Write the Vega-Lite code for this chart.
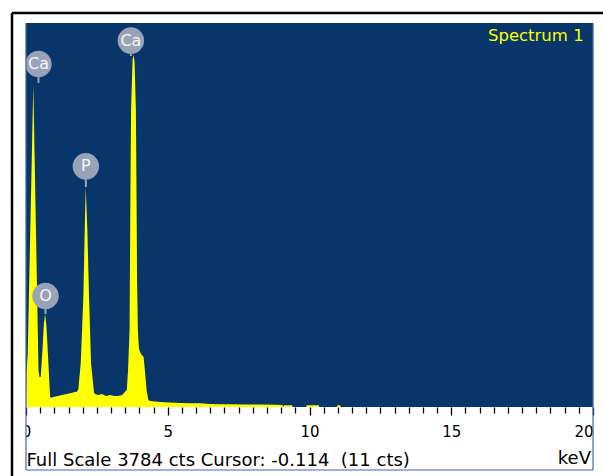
{
  "$schema": "https://vega.github.io/schema/vega-lite/v6.json",
  "width": 567,
  "height": 384,
  "autosize": {"type": "none"},
  "padding": {"left": 26, "top": 23, "right": 10, "bottom": 69},
  "background": "white",
  "view": {"fill": "#08356a", "stroke": null},
  "config": {"font": "DejaVu Sans"},
  "resolve": {"axis": {"x": "independent", "y": "independent"}},
  "datasets": {
    "spectrum": [
      {"e": 0, "c": 0}, {"e": 0.02, "c": 340}, {"e": 0.06, "c": 520}, {"e": 0.258, "c": 3173},
      {"e": 0.441, "c": 365}, {"e": 0.48, "c": 290}, {"e": 0.52, "c": 300}, {"e": 0.58, "c": 560},
      {"e": 0.63, "c": 820}, {"e": 0.675, "c": 915}, {"e": 0.72, "c": 800}, {"e": 0.79, "c": 430},
      {"e": 0.85, "c": 100}, {"e": 0.9, "c": 92}, {"e": 0.96, "c": 99}, {"e": 1.13, "c": 108},
      {"e": 1.27, "c": 118}, {"e": 1.44, "c": 128}, {"e": 1.59, "c": 138}, {"e": 1.73, "c": 148},
      {"e": 1.8, "c": 150}, {"e": 1.846, "c": 175}, {"e": 1.931, "c": 434}, {"e": 2.023, "c": 1084},
      {"e": 2.072, "c": 1744}, {"e": 2.107, "c": 2168}, {"e": 2.164, "c": 1744}, {"e": 2.224, "c": 1084},
      {"e": 2.294, "c": 434}, {"e": 2.4, "c": 138}, {"e": 2.436, "c": 128}, {"e": 2.54, "c": 118},
      {"e": 2.68, "c": 128}, {"e": 2.82, "c": 108}, {"e": 2.97, "c": 118}, {"e": 3.11, "c": 108},
      {"e": 3.25, "c": 108}, {"e": 3.39, "c": 118}, {"e": 3.49, "c": 148}, {"e": 3.555, "c": 168},
      {"e": 3.6, "c": 365}, {"e": 3.653, "c": 759}, {"e": 3.682, "c": 2040}, {"e": 3.706, "c": 2927},
      {"e": 3.759, "c": 3419}, {"e": 3.795, "c": 3469}, {"e": 3.83, "c": 3400}, {"e": 3.876, "c": 2927},
      {"e": 3.9, "c": 2040}, {"e": 3.918, "c": 1251}, {"e": 3.946, "c": 759}, {"e": 3.982, "c": 581},
      {"e": 4.024, "c": 542}, {"e": 4.084, "c": 512}, {"e": 4.148, "c": 493}, {"e": 4.2, "c": 345},
      {"e": 4.253, "c": 168}, {"e": 4.317, "c": 69}, {"e": 4.377, "c": 59}, {"e": 4.55, "c": 55},
      {"e": 4.73, "c": 49}, {"e": 5.08, "c": 44}, {"e": 5.44, "c": 40}, {"e": 5.79, "c": 38},
      {"e": 6.14, "c": 36}, {"e": 6.5, "c": 30}, {"e": 6.85, "c": 28}, {"e": 7.2, "c": 27},
      {"e": 7.73, "c": 25}, {"e": 8.26, "c": 24}, {"e": 8.79, "c": 22}, {"e": 9.04, "c": 20},
      {"e": 9.07, "c": 0}, {"e": 9.1, "c": 18}, {"e": 9.38, "c": 18}, {"e": 9.41, "c": 0},
      {"e": 9.88, "c": 0}, {"e": 9.91, "c": 18}, {"e": 10.32, "c": 18}, {"e": 10.35, "c": 0},
      {"e": 10.96, "c": 0}, {"e": 10.99, "c": 18}, {"e": 11.08, "c": 18}, {"e": 11.11, "c": 0},
      {"e": 20, "c": 0}
    ],
    "peaks": [
      {"el": "Ca", "e": 0.44, "c": 3380, "tip": 3193},
      {"el": "O", "e": 0.688, "c": 1094, "tip": 916},
      {"el": "P", "e": 2.111, "c": 2372, "tip": 2168},
      {"el": "Ca", "e": 3.7, "c": 3611, "tip": 3459}
    ]
  },
  "layer": [
    {
      "data": {"name": "spectrum"},
      "mark": {"type": "area", "color": "#ffff00", "interpolate": "linear", "clip": true},
      "encoding": {
        "x": {
          "field": "e", "type": "quantitative",
          "scale": {"domain": [0, 20], "nice": false, "zero": false},
          "axis": {
            "orient": "bottom",
            "values": [0,0.5,1,1.5,2,2.5,3,3.5,4,4.5,5,5.5,6,6.5,7,7.5,8,8.5,9,9.5,10,10.5,11,11.5,12,12.5,13,13.5,14,14.5,15,15.5,16,16.5,17,17.5,18,18.5,19,19.5,20],
            "labelExpr": "datum.value % 5 === 0 ? format(datum.value, 'd') : ''",
            "labelAlign": {"condition": {"test": "datum.value === 20", "value": "right"}, "value": "center"},
            "labelFont": "DejaVu Sans", "labelFontSize": 15, "labelColor": "black",
            "labelPadding": 9, "labelOverlap": false, "labelFlush": false,
            "domain": false, "grid": false,
            "tickColor": "black", "tickWidth": 1.3,
            "tickSize": {"condition": {"test": "datum.value % 5 === 0", "value": 8}, "value": 6},
            "title": "Full Scale 3784 cts Cursor: -0.114\u00a0 (11 cts)",
            "titleAnchor": "start", "titleAlign": "left",
            "titleFont": "DejaVu Sans", "titleFontSize": 18, "titleFontWeight": "normal",
            "titleColor": "black", "titlePadding": 12
          }
        },
        "y": {"field": "c", "type": "quantitative", "scale": {"domain": [0, 3784], "nice": false}, "axis": null}
      }
    },
    {
      "data": {"values": [{}]},
      "mark": {"type": "rect", "fill": "white"},
      "encoding": {
        "x": {"datum": -0.45, "type": "quantitative", "scale": {"domain": [0, 20], "nice": false, "zero": false}, "axis": null},
        "x2": {"datum": -0.0001},
        "y": {"datum": -5, "type": "quantitative", "scale": {"domain": [0, 3784], "nice": false}, "axis": null},
        "y2": {"datum": -700}
      }
    },
    {
      "data": {"name": "peaks"},
      "mark": {"type": "rule", "color": "#9aa4b8", "strokeWidth": 2, "clip": true},
      "encoding": {
        "x": {"field": "e", "type": "quantitative", "scale": {"domain": [0, 20], "nice": false, "zero": false}, "axis": null},
        "y": {"field": "c", "type": "quantitative", "scale": {"domain": [0, 3784], "nice": false}, "axis": null},
        "y2": {"field": "tip"}
      }
    },
    {
      "data": {"name": "peaks"},
      "mark": {"type": "point", "shape": "circle", "filled": true, "size": 700, "color": "#98a3b8", "opacity": 1, "clip": true},
      "encoding": {
        "x": {"field": "e", "type": "quantitative", "scale": {"domain": [0, 20], "nice": false, "zero": false}, "axis": null},
        "y": {"field": "c", "type": "quantitative", "scale": {"domain": [0, 3784], "nice": false}, "axis": null}
      }
    },
    {
      "data": {"name": "peaks"},
      "mark": {"type": "text", "color": "#f4f4f4", "fontSize": 16, "font": "DejaVu Sans", "align": "center", "baseline": "middle", "clip": true},
      "encoding": {
        "x": {"field": "e", "type": "quantitative", "scale": {"domain": [0, 20], "nice": false, "zero": false}, "axis": null},
        "y": {"field": "c", "type": "quantitative", "scale": {"domain": [0, 3784], "nice": false}, "axis": null},
        "text": {"field": "el"}
      }
    },
    {
      "data": {"values": [{"label": "Spectrum 1"}]},
      "mark": {"type": "text", "color": "#ffff00", "fontSize": 16.5, "font": "DejaVu Sans", "align": "right", "baseline": "middle"},
      "encoding": {
        "x": {"datum": 19.67, "type": "quantitative", "scale": {"domain": [0, 20], "nice": false, "zero": false}, "axis": null},
        "y": {"datum": 3651, "type": "quantitative", "scale": {"domain": [0, 3784], "nice": false}, "axis": null},
        "text": {"field": "label"}
      }
    },
    {
      "data": {"values": [{"label": "keV"}]},
      "mark": {"type": "text", "color": "black", "fontSize": 18, "font": "DejaVu Sans", "align": "right", "baseline": "middle", "dx": -2},
      "encoding": {
        "x": {"datum": 20, "type": "quantitative", "scale": {"domain": [0, 20], "nice": false, "zero": false}, "axis": null},
        "y": {"datum": -512, "type": "quantitative", "scale": {"domain": [0, 3784], "nice": false}, "axis": null},
        "text": {"field": "label"}
      }
    },
    {
      "data": {"values": [{"a": -0.001}, {"a": 20.001}]},
      "mark": {"type": "rule", "color": "#3a68b0", "strokeWidth": 1.2},
      "encoding": {
        "x": {"field": "a", "type": "quantitative", "scale": {"domain": [0, 20], "nice": false, "zero": false}, "axis": null},
        "y": {"datum": 3784, "type": "quantitative", "scale": {"domain": [0, 3784], "nice": false}, "axis": null},
        "y2": {"datum": -621}
      }
    },
    {
      "data": {"values": [{}]},
      "mark": {"type": "rule", "color": "#3a68b0", "strokeWidth": 1.2},
      "encoding": {
        "x": {"datum": 0, "type": "quantitative", "scale": {"domain": [0, 20], "nice": false, "zero": false}, "axis": null},
        "x2": {"datum": 20},
        "y": {"datum": -621, "type": "quantitative", "scale": {"domain": [0, 3784], "nice": false}, "axis": null}
      }
    },
    {
      "data": {"values": [{}]},
      "mark": {"type": "rule", "color": "black", "strokeWidth": 2.5},
      "encoding": {
        "x": {"datum": -0.494, "type": "quantitative", "scale": {"domain": [0, 20], "nice": false, "zero": false}, "axis": null},
        "y": {"datum": 3882, "type": "quantitative", "scale": {"domain": [0, 3784], "nice": false}, "axis": null},
        "y2": {"datum": -800}
      }
    },
    {
      "data": {"values": [{}]},
      "mark": {"type": "rule", "color": "black", "strokeWidth": 2.5},
      "encoding": {
        "x": {"datum": -0.494, "type": "quantitative", "scale": {"domain": [0, 20], "nice": false, "zero": false}, "axis": null},
        "x2": {"datum": 21.5},
        "y": {"datum": 3882, "type": "quantitative", "scale": {"domain": [0, 3784], "nice": false}, "axis": null}
      }
    }
  ]
}
